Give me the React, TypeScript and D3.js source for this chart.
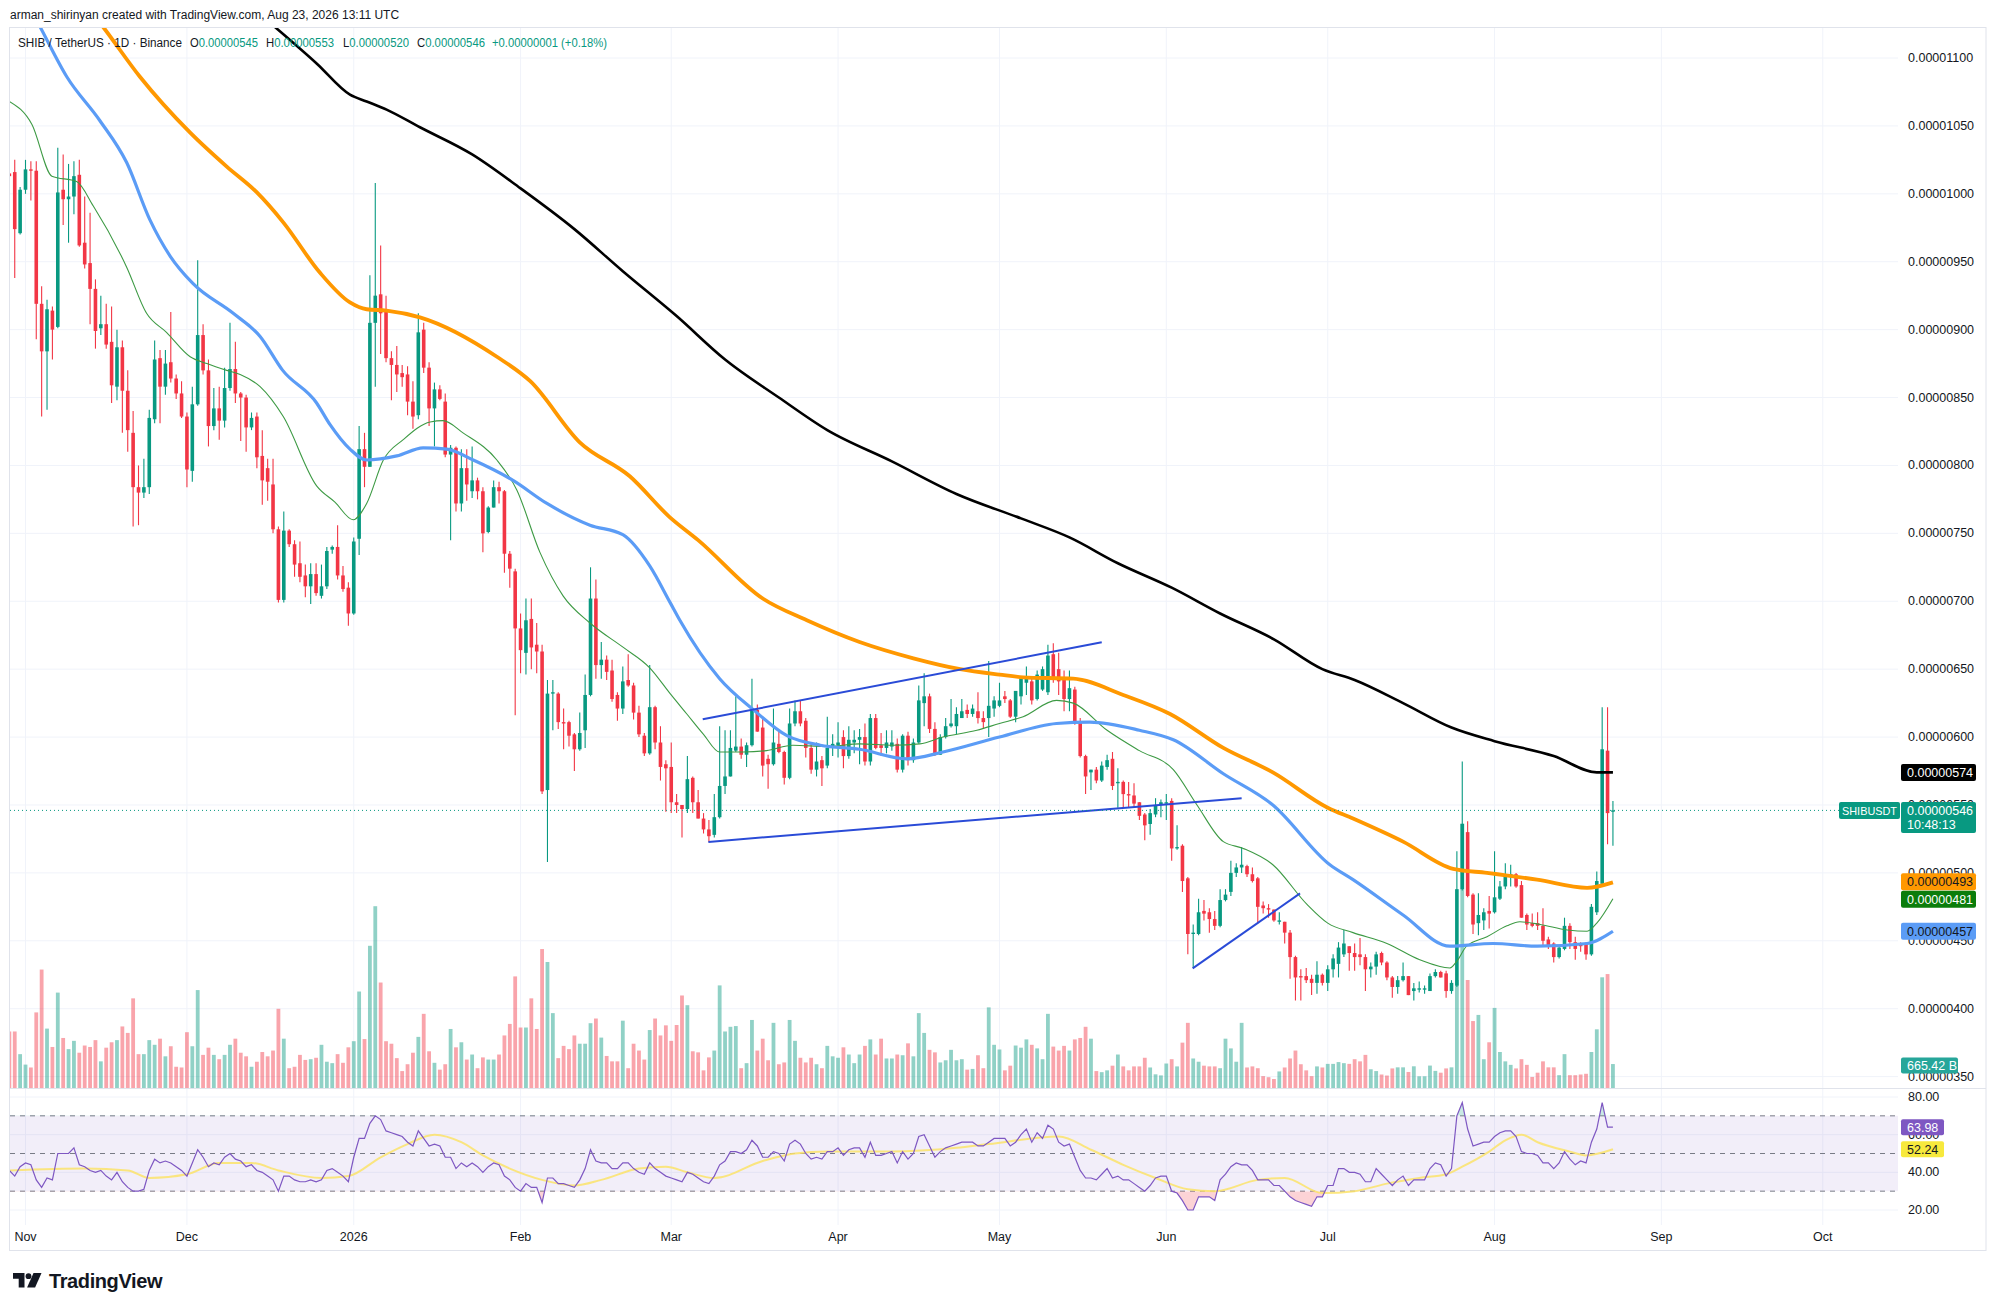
import React from "react";
import * as d3 from "d3";

// ---------- DATA (prices in units of 1e-8 USDT) ----------
const START_DATE = "2025-10-29";
const REF_DATE = "2025-11-01"; // day offsets for MA / RSI-MA / trendline points

const OHLC_OCT = [[1015,1018,1010,1013],[1016,1025,938,974],[971,1005,970,1003]];
const OHLC_NOV = [[1003,1025,1000,1018],[1018,1024,995,1017],[1017,1024,893,919],[919,932,836,884],[884,922,841,915],[914,917,878,900],[902,1034,901,1001],[1003,1029,977,996],[996,1022,964,998],[998,1024,985,1013],[1014,1025,961,962],[964,998,945,948],[949,986,904,930],[930,937,886,899],[901,925,896,904],[904,919,886,889],[891,917,846,859],[858,900,848,887],[887,892,824,855],[855,870,810,826],[824,840,755,784],[784,800,756,780],[780,805,776,784],[784,841,779,835],[834,892,831,878],[879,885,831,858],[858,885,852,875],[876,913,861,864],[864,867,849,853],[853,862,835,836]];
const OHLC_DEC = [[836,839,784,797],[796,858,788,845],[845,951,844,896],[896,904,867,870],[870,878,814,829],[829,857,826,842],[842,858,819,833],[833,872,828,857],[857,905,855,871],[871,891,846,853],[853,854,818,850],[850,852,810,828],[828,839,826,835],[836,839,798,806],[807,826,771,789],[798,805,774,788],[786,805,750,753],[753,755,699,701],[701,766,699,752],[752,753,740,742],[742,745,718,727],[728,744,714,718],[719,727,703,711],[711,728,698,720],[720,728,704,706],[704,727,702,711],[711,740,709,737],[738,741,735,740],[740,756,716,719],[719,726,707,709],[710,714,682,691]];
const OHLC_JAN = [[691,747,690,744],[746,829,734,812],[812,824,784,799],[799,940,799,905],[905,1008,858,925],[926,962,882,912],[915,925,876,879],[879,884,848,874],[874,888,854,867],[868,874,858,865],[867,873,837,847],[847,862,827,836],[837,912,834,898],[900,905,868,872],[872,876,829,842],[842,861,814,856],[856,859,848,849],[847,853,806,808],[808,815,745,813],[813,814,766,772],[772,812,766,798],[798,812,774,786],[781,814,776,789],[789,791,775,781],[781,784,736,750],[751,770,750,769],[769,789,769,784],[784,788,772,781],[781,782,721,735],[735,737,710,724],[722,724,616,680]];
const OHLC_FEB = [[680,691,647,664],[662,702,646,686],[687,702,650,666],[668,684,647,663],[663,668,558,560],[561,642,508,632],[632,642,605,633],[632,633,606,611],[611,621,591,610],[611,612,593,601],[602,603,575,591],[591,618,590,603],[605,646,592,631],[631,725,630,702],[702,716,643,653],[653,670,643,657],[657,660,642,648],[649,657,626,628],[631,633,612,621],[621,652,617,641],[642,661,637,638],[638,640,613,618],[618,623,600,602],[601,603,586,588],[588,653,587,622],[622,623,591,596],[596,608,568,578],[580,583,545,577]];
const OHLC_MAR = [[578,596,544,552],[552,558,544,550],[550,550,526,547],[547,586,544,569],[570,571,544,552],[552,561,540,540],[540,544,529,532],[532,539,523,527],[528,558,526,541],[541,608,540,564],[564,605,558,571],[571,605,571,592],[590,630,589,593],[593,599,584,587],[587,596,578,594],[594,643,593,620],[620,624,604,604],[607,614,571,579],[584,587,562,580],[580,621,579,596],[595,605,588,589],[589,590,565,570],[570,621,569,610],[610,627,608,619],[619,627,608,610],[612,614,585,592],[592,596,573,576],[576,596,571,582],[583,586,564,577],[579,615,577,592],[592,602,586,595]];
const OHLC_APR = [[594,611,585,596],[600,605,577,586],[586,608,584,598],[596,605,588,598],[598,606,580,600],[600,610,579,582],[582,617,579,614],[614,617,591,592],[594,603,586,592],[592,605,588,596],[593,605,590,596],[595,599,574,576],[576,602,574,601],[601,604,579,583],[583,599,581,596],[596,638,595,627],[625,647,608,630],[630,632,603,606],[606,611,586,587],[587,602,587,600],[600,614,599,608],[608,628,607,610],[608,622,602,617],[614,628,614,619],[620,624,614,617],[617,624,615,621],[619,633,610,614],[614,619,606,611],[614,656,600,623],[621,630,615,627]];
const OHLC_MAY = [[623,640,622,627],[630,634,625,628],[627,628,614,615],[615,634,611,634],[630,644,624,643],[640,652,631,644],[641,643,624,627],[628,649,627,646],[635,652,634,650],[633,668,631,660],[661,669,640,644],[650,662,631,641],[644,649,619,628],[628,649,619,636],[635,637,609,611],[611,614,585,586],[586,587,558,571],[574,576,561,576],[576,578,566,568],[568,582,567,579],[578,587,576,583],[584,589,561,564],[566,577,548,567],[567,568,548,558],[558,567,548,557],[557,566,548,551],[552,552,539,542],[543,544,524,535],[536,547,528,544],[543,555,541,550],[550,554,541,552]];
const OHLC_JUN = [[551,558,539,552],[553,555,509,518],[518,535,517,519],[520,521,486,494],[496,497,440,455],[455,462,430,456],[455,481,454,471],[472,480,465,470],[471,474,456,466],[466,472,458,461],[461,488,460,480],[480,488,479,484],[486,509,483,500],[500,507,497,504],[504,519,500,506],[505,506,497,499],[499,504,493,494],[496,497,463,475],[476,479,470,474],[474,477,467,473],[473,473,464,465],[464,471,462,465],[464,464,448,456],[456,458,422,438],[438,439,406,423],[424,429,406,423],[424,430,419,421],[422,425,410,419],[419,435,411,425],[425,426,417,419]];
const OHLC_JUL = [[419,432,413,429],[429,440,423,437],[433,449,423,445],[440,458,438,448],[446,446,428,441],[441,448,428,438],[440,452,432,438],[438,440,413,429],[429,434,423,431],[431,442,425,440],[441,442,432,434],[434,435,421,423],[423,424,408,416],[416,424,411,421],[421,434,420,424],[424,424,410,410],[413,419,406,415],[414,420,412,415],[414,417,411,415],[413,426,413,424],[424,429,423,427],[427,428,423,423],[426,428,408,413],[413,421,411,419],[417,516,416,488],[488,582,487,536],[530,538,482,483],[484,485,455,462],[463,485,454,469],[465,474,458,471],[472,483,459,470]];
const OHLC_AUG = [[471,516,470,482],[481,494,480,490],[490,507,488,498],[498,506,490,499],[499,500,489,490],[491,494,467,467],[469,470,458,462],[463,470,460,461],[463,471,458,461],[461,474,446,450],[451,453,444,446],[448,449,434,438],[438,446,437,445],[444,467,443,461],[461,463,444,449],[449,453,436,444],[448,449,442,446],[448,449,436,440],[440,477,439,475],[471,501,469,494],[492,622,491,591],[590,622,521,544],[545,553,520,546]];

// volume in billions SHIB
const VOL_OCT = [1570,1570,940];
const VOL_NOV = [650,570,2100,3290,1650,1140,2650,1390,1080,1310,980,1180,1140,1330,740,1120,1270,1330,1710,1530,2490,940,940,1330,1200,1370,880,1160,590,570];
const VOL_DEC = [1550,1160,2720,920,1120,920,800,920,1200,1370,980,880,590,730,1000,880,1040,2200,1370,550,590,920,780,800,840,1200,730,690,940,700,1130];
const VOL_JAN = [1300,2680,1360,3950,5050,2930,1300,1230,830,470,660,980,1420,2060,1020,700,510,660,1640,1130,1270,790,930,550,850,790,790,930,1460,1780,3100];
const VOL_FEB = [1680,1680,2490,1640,3860,3500,2080,830,1170,1080,1460,1230,1230,1800,1930,1400,890,740,740,1870,550,1230,1040,790,1610,1930,1460,1740];
const VOL_MAR = [1310,1750,2570,2300,1020,990,490,850,1040,2850,1570,1700,1720,550,690,1890,1040,1370,770,1810,660,710,1890,1310,840,710,840,660,550,1170,880];
const VOL_APR = [840,1130,930,690,930,1170,1350,930,1370,820,820,930,910,1240,880,2080,1530,1060,990,710,770,1060,770,800,510,530,910,550,2240,1200];
const VOL_MAY = [1070,490,620,1180,1120,1350,1200,1100,800,2060,1150,1040,1170,1040,1350,1390,1700,1370,470,440,490,620,930,600,490,600,600,840,570,380,350];
const VOL_JUN = [680,800,600,1260,1810,820,730,620,600,600,550,1370,1100,730,1810,570,600,550,330,300,250,460,570,820,1040,660,490,330,600,570];
const VOL_JUL = [670,670,720,690,670,800,740,920,520,470,375,346,544,574,574,445,603,326,326,623,475,425,544,574,3000,7350,3000,1860,2030,800,1270];
const VOL_AUG = [2225,1000,740,643,544,800,643,307,425,740,574,574,356,940,356,356,375,395,1000,1630,3075,3165,665.42];

const RSI_OCT = [41,38,43];
const RSI_NOV = [45,44,36,32,37,36,50,50,50,53,44,43,41,40,41,38,36,40,35,32,30,30,31,41,47,45,46,45,43,41];
const RSI_DEC = [38,45,52,48,43,45,44,48,50,47,46,43,44,41,40,38,36,30,38,38,36,35,35,36,35,36,41,42,40,38,35];
const RSI_JAN = [48,58,58,66,70,68,62,61,60,59,56,54,62,58,54,55,54,48,48,42,45,43,45,43,40,43,45,44,38,36,32];
const RSI_FEB = [30,34,32,32,24,37,37,34,34,33,32,36,42,52,46,45,45,42,42,45,45,42,40,39,45,42,40,38];
const RSI_MAR = [37,36,35,40,39,37,35,34,38,44,46,51,51,50,52,57,54,48,48,51,50,46,55,57,55,50,47,48,47,51,51];
const RSI_APR = [53,49,52,53,53,48,56,49,49,50,51,45,51,47,50,59,60,54,48,51,53,54,55,56,56,56,54,54,56,58];
const RSI_MAY = [58,58,54,56,60,63,56,61,58,65,63,56,54,55,48,41,37,37,36,39,42,37,38,36,36,34,32,30,33,37,38];
const RSI_JUN = [38,30,29,25,20,20,27,27,27,25,36,39,43,45,44,44,41,36,36,36,33,33,30,27,25,24,23,22,27,27];
const RSI_JUL = [33,33,42,42,40,40,39,35,35,42,39,36,33,36,38,33,36,36,36,42,45,44,38,42,70,77,63,54,55,56,56];
const RSI_AUG = [59,61,62,62,59,51,50,50,49,45,45,42,45,51,47,44,46,45,56,63,77,64,63.98];

// [day offset from REF_DATE, value]
const RSI_MA = [[-3,41],[11,42],[19,41],[23,37],[30,39],[36,45],[42,45],[47,41],[55,37],[60,38],[66,48],[71,55],[76,60],[81,56],[85,49],[90,42],[96,36],[102,33],[107,36],[114,42],[119,43],[123,40],[128,37],[137,46],[143,50],[149,51],[161,51],[173,53],[179,55],[192,59],[198,52],[204,44],[210,37],[216,31],[221,30],[229,36],[234,37],[241,29],[247,30],[253,34],[259,37],[264,39],[267,43],[272,51],[275,57],[278,60],[281,56],[287,51],[290,49],[295,52.24]];
const MA_BLACK = [[46,1124],[54.1,1096],[60.3,1073],[63.4,1068],[67.1,1062],[73.3,1049],[83,1029],[92,1004],[102,974],[111,943],[121,910],[130,878],[140,850],[149,826],[161,803],[173,779],[185,761],[194,747],[203,728],[213,710],[222,691],[232,672],[241,650],[247,642],[256,625],[265,607],[273,597],[284,586],[292,574],[295,574]];
const MA_ORANGE = [[8,1155],[14.4,1123],[21.3,1086],[30.6,1045],[37.4,1020],[43,1001],[47.9,979],[54.7,942],[60.3,920],[63.4,915],[67.1,914],[73.3,909],[87.6,880],[93.8,862],[103,817],[112.3,792],[119.7,762],[125,745],[137,702],[145.2,686],[155,670],[165,658],[173.7,650],[181,646],[185.4,644],[194.7,643],[204,631],[212.7,617],[222.6,592],[231.8,574],[242,548],[246.7,540],[256,523],[265.3,503],[271.6,500],[280.9,495],[290.2,489],[295,493]];
const MA_BLUE = [[-3,1165],[2.7,1123],[7.7,1086],[13.8,1054],[18.8,1023],[23.1,981],[26.9,954],[31.1,934],[38.6,912],[43.6,895],[47.8,870],[54.1,846],[56.6,830],[60.3,812],[63.4,804],[69,807],[73.9,813],[78.3,812],[83.2,804],[90.6,789],[96.9,772],[104.9,756],[111,749],[116,726],[119.8,699],[121.6,686],[129,643],[135.3,620],[141.5,601],[147.7,594],[155,591],[163.8,584],[170.5,589],[181,600],[191.6,610],[197.8,611],[207,605],[213.3,598],[222.6,573],[231.8,550],[242.4,506],[246.7,495],[256,469],[264.7,446],[272.7,448],[280.9,446],[290.2,448],[295,457]];
const MA_GREEN = [[-3,1068],[1.2,1051],[4.9,1013],[9.5,1009],[12.6,991],[18.8,946],[22.5,912],[26.2,898],[30.6,880],[33.7,875],[37.4,870],[39.9,867],[43.6,858],[47.9,836],[54.1,785],[57.5,773],[60.9,760],[63.4,772],[66.5,804],[70.2,819],[75.2,832],[77.6,833],[81.3,824],[87.6,804],[91.3,782],[95.6,736],[99.9,704],[104.9,684],[111.1,666],[116,651],[119.8,632],[122.9,617],[126,602],[129,589],[133.4,589],[137.7,590],[142.6,594],[148.9,593],[155,595],[161.2,594],[166.2,595],[170.5,600],[176.8,605],[181,610],[185.4,615],[191.6,627],[194.7,625],[201,605],[207,590],[213.3,576],[217.7,550],[222.6,523],[226.3,518],[231.8,506],[238.1,477],[242,463],[246.7,456],[253,448],[259.1,436],[264.7,430],[266,435],[267.8,446],[271.6,453],[275.3,461],[277.7,464],[281.5,462],[286.5,458],[290.2,457],[292,463],[295,481]];
// drawn trend lines: [day1, price1, day2, price2]
const TRENDLINES = [[125.85,613.1,200,669.8],[126.9,522.8,226,554.9],[216.9,429.7,236.85,484.9]];

const PRICE_TICKS = [350,400,450,500,550,600,650,700,750,800,850,900,950,1000,1050,1100];
const RSI_TICKS = [80,60,40,20];
const RSI_BANDS = [70,50,30];
const MONTH_TICKS = [["2025-11-01","Nov"],["2025-12-01","Dec"],["2026-01-01","2026"],["2026-02-01","Feb"],["2026-03-01","Mar"],["2026-04-01","Apr"],["2026-05-01","May"],["2026-06-01","Jun"],["2026-07-01","Jul"],["2026-08-01","Aug"],["2026-09-01","Sep"],["2026-10-01","Oct"]];

const LAST = { open: 545, high: 553, low: 520, close: 546 };
const MA_LAST = { black: 574, orange: 493, green: 481, blue: 457 };
const RSI_LAST = { rsi: 63.98, ma: 52.24 };
const VOL_LAST = "665.42 B";
const COUNTDOWN = "10:48:13";

// ---------- helpers ----------
const OHLC = [...OHLC_OCT, ...OHLC_NOV, ...OHLC_DEC, ...OHLC_JAN, ...OHLC_FEB, ...OHLC_MAR, ...OHLC_APR, ...OHLC_MAY, ...OHLC_JUN, ...OHLC_JUL, ...OHLC_AUG];
const VOLUME = [...VOL_OCT, ...VOL_NOV, ...VOL_DEC, ...VOL_JAN, ...VOL_FEB, ...VOL_MAR, ...VOL_APR, ...VOL_MAY, ...VOL_JUN, ...VOL_JUL, ...VOL_AUG];
const RSI = [...RSI_OCT, ...RSI_NOV, ...RSI_DEC, ...RSI_JAN, ...RSI_FEB, ...RSI_MAR, ...RSI_APR, ...RSI_MAY, ...RSI_JUN, ...RSI_JUL, ...RSI_AUG];

const DAY = 86400000;
const startT = Date.parse(START_DATE + "T00:00:00Z");
const refT = Date.parse(REF_DATE + "T00:00:00Z");
const offDate = (d: number) => new Date(refT + d * DAY);
const fmtP = (p: number) => (p / 1e8).toFixed(8);

const UP = "#089981";
const DOWN = "#f23645";
const FONT = "'Liberation Sans', Arial, sans-serif";
const TXT = "#131722";

function Tag({ y, bg, fg, text, w = 75, h = 17, x = 1901 }: any) {
  return (
    <g>
      <rect x={x} y={y - h / 2} width={w} height={h} rx={2} fill={bg} />
      <text x={x + 6} y={y + 0.5} fill={fg} fontSize={12.5} dominantBaseline="central">{text}</text>
    </g>
  );
}

export default function App() {
  const W = 1996, H = 1311;
  const L = 10, R = 1898, TOP = 27, SEP = 1088, RB = 1225, FR = 1986, FB = 1250;

  const x = d3.scaleUtc().domain([new Date(Date.UTC(2025, 10, 1)), new Date(Date.UTC(2026, 9, 1))]).range([25.5, 1822.8]);
  const y = d3.scaleLinear().domain([350, 1100]).range([1076.6, 58]);
  const yVol = d3.scaleLinear().domain([0, 7350]).range([SEP, SEP - 264.6]);
  const yR = d3.scaleLinear().domain([20, 80]).range([1210, 1097]);

  const bars = OHLC.map((c, i) => ({ t: new Date(startT + i * DAY), o: c[0], h: c[1], l: c[2], c: c[3], v: VOLUME[i], r: RSI[i] }));

  const maLine = d3.line<number[]>().x(d => x(offDate(d[0]))).y(d => y(d[1])).curve(d3.curveMonotoneX);
  const rsiLine = d3.line<any>().x(d => x(d.t)).y(d => yR(d.r));
  const rsiMaLine = d3.line<number[]>().x(d => x(offDate(d[0]))).y(d => yR(d[1])).curve(d3.curveMonotoneX);
  const rsiLow = d3.area<any>().x(d => x(d.t)).y0(yR(30)).y1(d => yR(d.r));
  const rsiHigh = d3.area<any>().x(d => x(d.t)).y0(yR(70)).y1(d => yR(d.r));

  const bodyW = 3.6;
  const volW = 3.8;

  const tags = [
    { v: MA_LAST.orange, bg: "#ff9800", fg: "#131722" },
    { v: MA_LAST.green, bg: "#0b7d0b", fg: "#ffffff" },
    { v: MA_LAST.blue, bg: "#5b9cf6", fg: "#131722" },
  ].map(t => ({ ...t, y: y(t.v) }));
  for (let k = 0; k < 8; k++) {
    for (let i = 1; i < tags.length; i++) {
      const gap = tags[i].y - tags[i - 1].y;
      if (gap < 17.5) { const dd = (17.5 - gap) / 2; tags[i - 1].y -= dd; tags[i].y += dd; }
    }
  }
  const yLast = y(LAST.close);
  const chg = LAST.close - LAST.open;

  return (
    <svg width={W} height={H} viewBox={`0 0 ${W} ${H}`} style={{ position: "absolute", left: 0, top: 0, background: "#fff" }} fontFamily={FONT}>
      <defs>
        <clipPath id="pp"><rect x={L} y={TOP} width={R - L} height={SEP - TOP} /></clipPath>
        <clipPath id="rp"><rect x={L} y={SEP} width={R - L} height={RB - SEP} /></clipPath>
        <clipPath id="b30"><rect x={L} y={yR(30)} width={R - L} height={RB - yR(30)} /></clipPath>
        <clipPath id="a70"><rect x={L} y={SEP} width={R - L} height={yR(70) - SEP} /></clipPath>
      </defs>
      <rect x={0} y={0} width={W} height={H} fill="#ffffff" />

      {/* header */}
      <text x={10} y={15} fontSize={12} fill={TXT} dominantBaseline="central">arman_shirinyan created with TradingView.com, Aug 23, 2026 13:11 UTC</text>

      {/* grid */}
      {PRICE_TICKS.map(p => (
        <line key={"gp" + p} x1={L} x2={R} y1={y(p)} y2={y(p)} stroke="#f0f3fa" strokeWidth={1} />
      ))}
      {RSI_TICKS.map(v => (
        <line key={"gr" + v} x1={L} x2={R} y1={yR(v)} y2={yR(v)} stroke="#f0f3fa" strokeWidth={1} />
      ))}
      {MONTH_TICKS.map(([d]) => {
        const xx = x(new Date(d + "T00:00:00Z"));
        return <line key={"gm" + d} x1={xx} x2={xx} y1={TOP} y2={RB} stroke="#f0f3fa" strokeWidth={1} />;
      })}

      {/* price pane */}
      <g clipPath="url(#pp)">
        {bars.map((b, i) => {
          const up = b.c >= b.o;
          const h = SEP - yVol(b.v);
          return <rect key={"v" + i} x={x(b.t) - volW / 2} y={SEP - h} width={volW} height={h} fill={up ? UP : DOWN} fillOpacity={0.45} />;
        })}
        {bars.map((b, i) => {
          const up = b.c >= b.o;
          const col = up ? UP : DOWN;
          const xx = x(b.t);
          const top = y(Math.max(b.o, b.c));
          const bot = y(Math.min(b.o, b.c));
          return (
            <g key={"c" + i}>
              <line x1={xx} x2={xx} y1={y(b.h)} y2={y(b.l)} stroke={col} strokeWidth={1.1} />
              <rect x={xx - bodyW / 2} y={top} width={bodyW} height={Math.max(1, bot - top)} fill={col} />
            </g>
          );
        })}
        <path d={maLine(MA_GREEN as any) || ""} fill="none" stroke="#3d9a44" strokeWidth={1.1} />
        <path d={maLine(MA_BLUE as any) || ""} fill="none" stroke="#5b9cf6" strokeWidth={3.2} />
        <path d={maLine(MA_ORANGE as any) || ""} fill="none" stroke="#ff9800" strokeWidth={3.8} />
        <path d={maLine(MA_BLACK as any) || ""} fill="none" stroke="#000000" strokeWidth={2.6} />
        {TRENDLINES.map((t, i) => (
          <line key={"tl" + i} x1={x(offDate(t[0]))} y1={y(t[1])} x2={x(offDate(t[2]))} y2={y(t[3])} stroke="#2a4bd7" strokeWidth={2} />
        ))}
        <line x1={L} x2={1840} y1={yLast} y2={yLast} stroke={UP} strokeWidth={1} strokeDasharray="1 3" />
      </g>

      {/* legend */}
      <g fontSize={12.5} dominantBaseline="central">
        <text x={18} y={42.5} fill={TXT} textLength={164} lengthAdjust="spacingAndGlyphs">SHIB / TetherUS · 1D · Binance</text>
        <text x={190} y={42.5} textLength={68} lengthAdjust="spacingAndGlyphs"><tspan fill={TXT}>O</tspan><tspan fill={UP}>{fmtP(LAST.open)}</tspan></text>
        <text x={266} y={42.5} textLength={68} lengthAdjust="spacingAndGlyphs"><tspan fill={TXT}>H</tspan><tspan fill={UP}>{fmtP(LAST.high)}</tspan></text>
        <text x={343} y={42.5} textLength={66} lengthAdjust="spacingAndGlyphs"><tspan fill={TXT}>L</tspan><tspan fill={UP}>{fmtP(LAST.low)}</tspan></text>
        <text x={417} y={42.5} textLength={68} lengthAdjust="spacingAndGlyphs"><tspan fill={TXT}>C</tspan><tspan fill={UP}>{fmtP(LAST.close)}</tspan></text>
        <text x={492} y={42.5} fill={UP} textLength={115} lengthAdjust="spacingAndGlyphs">{"+" + fmtP(chg) + " (+" + ((chg / LAST.open) * 100).toFixed(2) + "%)"}</text>
      </g>

      {/* RSI pane */}
      <rect x={L} y={yR(70)} width={R - L} height={yR(30) - yR(70)} fill="#7e57c2" fillOpacity={0.1} />
      {RSI_BANDS.map(v => (
        <line key={"rb" + v} x1={L} x2={R} y1={yR(v)} y2={yR(v)} stroke="#787b86" strokeWidth={1} strokeDasharray="5 5" />
      ))}
      <g clipPath="url(#rp)">
        <path d={rsiLow(bars) || ""} fill="#f23645" fillOpacity={0.22} clipPath="url(#b30)" />
        <path d={rsiHigh(bars) || ""} fill="#089981" fillOpacity={0.22} clipPath="url(#a70)" />
        <path d={rsiMaLine(RSI_MA as any) || ""} fill="none" stroke="#fbe36a" strokeOpacity={0.85} strokeWidth={2} />
        <path d={rsiLine(bars) || ""} fill="none" stroke="#7e57c2" strokeWidth={1.2} />
      </g>

      {/* frame & separators */}
      <line x1={9.5} x2={FR} y1={SEP + 0.5} y2={SEP + 0.5} stroke="#e0e3eb" strokeWidth={1} />
      <rect x={9.5} y={TOP + 0.5} width={FR - 9.5} height={FB - TOP} fill="none" stroke="#e0e3eb" strokeWidth={1} />

      {/* price axis */}
      <g fontSize={12.5} fill={TXT} dominantBaseline="central">
        {PRICE_TICKS.map(p => (
          <text key={"pl" + p} x={1908} y={y(p)}>{fmtP(p)}</text>
        ))}
        {RSI_TICKS.map(v => (
          <text key={"rl" + v} x={1908} y={yR(v)}>{v.toFixed(2)}</text>
        ))}
      </g>

      {/* time axis */}
      <g fontSize={12.5} fill={TXT} textAnchor="middle" dominantBaseline="central">
        {MONTH_TICKS.map(([d, lab]) => (
          <text key={"ml" + d} x={x(new Date(d + "T00:00:00Z"))} y={1237}>{lab}</text>
        ))}
      </g>

      {/* tags */}
      <Tag y={y(MA_LAST.black)} bg="#000000" fg="#ffffff" text={fmtP(MA_LAST.black)} />
      {tags.map((t, i) => <Tag key={"tg" + i} y={t.y} bg={t.bg} fg={t.fg} text={fmtP(t.v)} />)}
      <g>
        <rect x={1839} y={yLast - 8.5} width={61} height={17} rx={2} fill={UP} />
        <text x={1842} y={yLast + 0.5} fill="#fff" fontSize={11.5} dominantBaseline="central" textLength={55} lengthAdjust="spacingAndGlyphs">SHIBUSDT</text>
        <rect x={1901} y={yLast - 8.5} width={75} height={31} rx={2} fill={UP} />
        <text x={1907} y={yLast + 0.5} fill="#fff" fontSize={12.5} dominantBaseline="central">{fmtP(LAST.close)}</text>
        <text x={1907} y={yLast + 14.5} fill="#fff" fontSize={12.5} dominantBaseline="central">{COUNTDOWN}</text>
      </g>
      <Tag y={yVol(665.42) + 1.5} bg="#26a69a" fg="#ffffff" text={VOL_LAST} w={57} h={16} />
      <Tag y={yR(RSI_LAST.rsi)} bg="#7e57c2" fg="#ffffff" text={RSI_LAST.rsi.toFixed(2)} w={43} h={16} />
      <Tag y={yR(RSI_LAST.ma)} bg="#f7e93d" fg="#131722" text={RSI_LAST.ma.toFixed(2)} w={43} h={16} />

      {/* TradingView logo */}
      <g fill="#131722">
        <path d="M13,1273 h11.5 v14.5 h-5.8 v-8.7 h-5.7 z" />
        <circle cx={28.5} cy={1276.2} r={2.9} />
        <path d="M33.5,1273 h8 l-6.4,14.5 h-8 z" />
        <text x={49} y={1288} fontSize={20} fontWeight={600} letterSpacing={-0.4}>TradingView</text>
      </g>
    </svg>
  );
}
